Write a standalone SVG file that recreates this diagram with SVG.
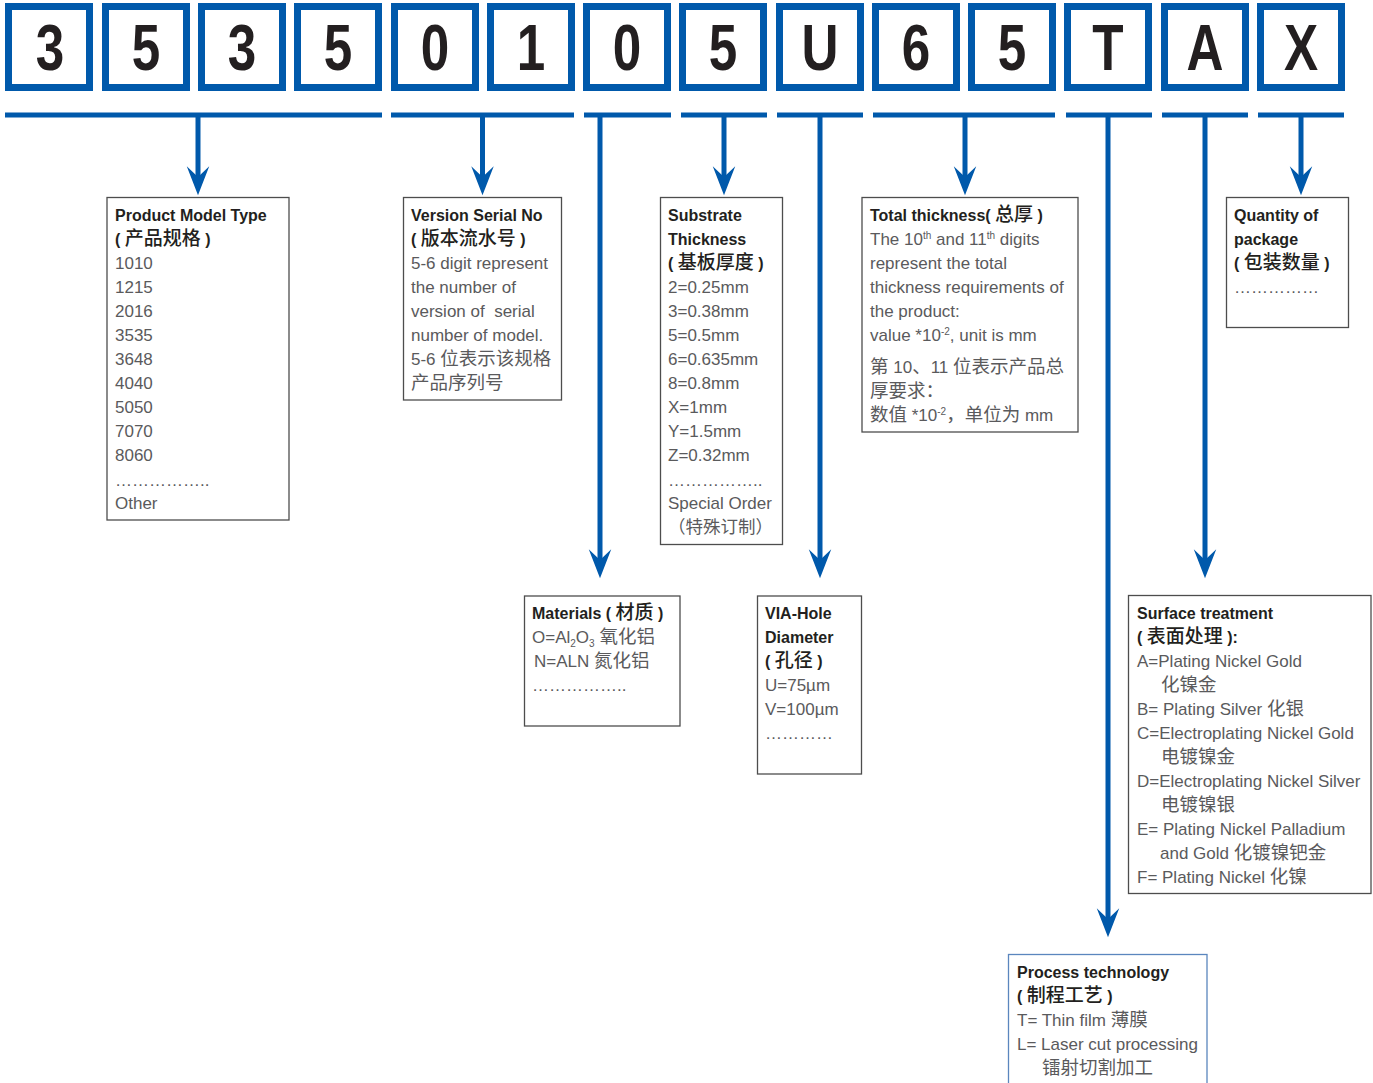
<svg xmlns="http://www.w3.org/2000/svg" width="1373" height="1083" viewBox="0 0 1373 1083">
<style>
.dbox{fill:#fff;stroke:#0059ab;stroke-width:7}
.dig{font-family:"Liberation Sans",sans-serif;font-weight:bold;font-size:64px;fill:#231f20;text-anchor:middle}
.bar{stroke:#0059ab;stroke-width:5;fill:none}
.stem{stroke:#0059ab;stroke-width:5;fill:none;marker-end:url(#ah)}
.nbox{fill:#fff;stroke:#4d4d4d;stroke-width:1.3}
.t{font-family:"Liberation Sans","Noto Sans CJK SC",sans-serif;font-size:17px;fill:#5a5a5c}
.h{font-family:"Liberation Sans","Noto Sans CJK SC",sans-serif;font-size:16px;font-weight:bold;fill:#231f20}
.c{font-family:"Noto Sans CJK SC",sans-serif;font-size:18.5px}
.hc{font-family:"Noto Sans CJK SC",sans-serif;font-size:19px;font-weight:500}
.sup{font-size:10px}
</style>
<defs>
<marker id="ah" markerUnits="userSpaceOnUse" markerWidth="30" markerHeight="24" viewBox="-27 -11 28 22" refX="-17" refY="0" orient="auto">
<path d="M0,0 L-27,-10.5 L-17,0 L-27,10.5 Z" fill="#0059ab"/>
</marker>
</defs>

<g id="code">
<rect class="dbox" x="8.5" y="6.5" width="81" height="81"/>
<rect class="dbox" x="105.5" y="6.5" width="81" height="81"/>
<rect class="dbox" x="201.5" y="6.5" width="81" height="81"/>
<rect class="dbox" x="297.5" y="6.5" width="81" height="81"/>
<rect class="dbox" x="394.5" y="6.5" width="81" height="81"/>
<rect class="dbox" x="490.5" y="6.5" width="81" height="81"/>
<rect class="dbox" x="586.5" y="6.5" width="81" height="81"/>
<rect class="dbox" x="682.5" y="6.5" width="81" height="81"/>
<rect class="dbox" x="779.5" y="6.5" width="81" height="81"/>
<rect class="dbox" x="875.5" y="6.5" width="81" height="81"/>
<rect class="dbox" x="971.5" y="6.5" width="81" height="81"/>
<rect class="dbox" x="1067.5" y="6.5" width="81" height="81"/>
<rect class="dbox" x="1164.5" y="6.5" width="81" height="81"/>
<rect class="dbox" x="1260.5" y="6.5" width="81" height="81"/>
<text class="dig" transform="translate(50,70) scale(0.8,1)">3</text>
<text class="dig" transform="translate(146,70) scale(0.8,1)">5</text>
<text class="dig" transform="translate(242,70) scale(0.8,1)">3</text>
<text class="dig" transform="translate(338,70) scale(0.8,1)">5</text>
<text class="dig" transform="translate(435,70) scale(0.8,1)">0</text>
<text class="dig" transform="translate(531,70) scale(0.8,1)">1</text>
<text class="dig" transform="translate(627,70) scale(0.8,1)">0</text>
<text class="dig" transform="translate(723,70) scale(0.8,1)">5</text>
<text class="dig" transform="translate(820,70) scale(0.8,1)">U</text>
<text class="dig" transform="translate(916,70) scale(0.8,1)">6</text>
<text class="dig" transform="translate(1012,70) scale(0.8,1)">5</text>
<text class="dig" transform="translate(1108,70) scale(0.8,1)">T</text>
<text class="dig" transform="translate(1205,70) scale(0.8,1)">A</text>
<text class="dig" transform="translate(1301,70) scale(0.8,1)">X</text>
</g>

<g id="connectors">
<line class="bar" x1="5" y1="115" x2="382" y2="115"/>
<line class="bar" x1="391" y1="115" x2="574" y2="115"/>
<line class="bar" x1="584" y1="115" x2="671" y2="115"/>
<line class="bar" x1="681" y1="115" x2="767" y2="115"/>
<line class="bar" x1="777" y1="115" x2="863" y2="115"/>
<line class="bar" x1="873" y1="115" x2="1055" y2="115"/>
<line class="bar" x1="1066" y1="115" x2="1152" y2="115"/>
<line class="bar" x1="1162" y1="115" x2="1248" y2="115"/>
<line class="bar" x1="1258" y1="115" x2="1344" y2="115"/>
<line class="stem" x1="198" y1="115" x2="198" y2="177"/>
<line class="stem" x1="482.5" y1="115" x2="482.5" y2="177"/>
<line class="stem" x1="600" y1="115" x2="600" y2="560"/>
<line class="stem" x1="724" y1="115" x2="724" y2="177"/>
<line class="stem" x1="820" y1="115" x2="820" y2="560"/>
<line class="stem" x1="965" y1="115" x2="965" y2="177"/>
<line class="stem" x1="1108" y1="115" x2="1108" y2="919"/>
<line class="stem" x1="1205" y1="115" x2="1205" y2="560"/>
<line class="stem" x1="1301" y1="115" x2="1301" y2="177"/>
</g>

<g id="product-model">
<rect class="nbox" x="107" y="197.5" width="182" height="322.5"/>
<text class="h" x="115" y="221">Product Model Type</text>
<text class="h" x="115" y="245">( <tspan class="hc">产品规格</tspan> )</text>
<text class="t" x="115" y="269">1010</text>
<text class="t" x="115" y="293">1215</text>
<text class="t" x="115" y="317">2016</text>
<text class="t" x="115" y="341">3535</text>
<text class="t" x="115" y="365">3648</text>
<text class="t" x="115" y="389">4040</text>
<text class="t" x="115" y="413">5050</text>
<text class="t" x="115" y="437">7070</text>
<text class="t" x="115" y="461">8060</text>
<text class="t" x="115" y="486">……………..</text>
<text class="t" x="115" y="509">Other</text>
</g>

<g id="version-serial">
<rect class="nbox" x="403.5" y="197.5" width="158" height="202.5"/>
<text class="h" x="411" y="221">Version Serial No</text>
<text class="h" x="411" y="245">( <tspan class="hc">版本流水号</tspan> )</text>
<text class="t" x="411" y="269">5-6 digit represent</text>
<text class="t" x="411" y="293">the number of</text>
<text class="t" x="411" y="317">version of&#160; serial</text>
<text class="t" x="411" y="341">number of model.</text>
<text class="t" x="411" y="365">5-6 <tspan class="c">位表示该规格</tspan></text>
<text class="t" x="411" y="389"><tspan class="c">产品序列号</tspan></text>
</g>

<g id="substrate-thickness">
<rect class="nbox" x="660.5" y="197.5" width="122" height="347"/>
<text class="h" x="668" y="221">Substrate</text>
<text class="h" x="668" y="245">Thickness</text>
<text class="h" x="668" y="269">( <tspan class="hc">基板厚度</tspan> )</text>
<text class="t" x="668" y="293">2=0.25mm</text>
<text class="t" x="668" y="317">3=0.38mm</text>
<text class="t" x="668" y="341">5=0.5mm</text>
<text class="t" x="668" y="365">6=0.635mm</text>
<text class="t" x="668" y="389">8=0.8mm</text>
<text class="t" x="668" y="413">X=1mm</text>
<text class="t" x="668" y="437">Y=1.5mm</text>
<text class="t" x="668" y="461">Z=0.32mm</text>
<text class="t" x="668" y="486">……………..</text>
<text class="t" x="668" y="509">Special Order</text>
<text class="t" x="668" y="533"><tspan class="c" style="font-size:17.5px">（特殊订制）</tspan></text>
</g>

<g id="total-thickness">
<rect class="nbox" x="862" y="197.5" width="216" height="234.5"/>
<text class="h" x="870" y="221">Total thickness( <tspan class="hc">总厚</tspan> )</text>
<text class="t" x="870" y="245">The 10<tspan class="sup" dy="-6">th</tspan><tspan dy="6"> and 11</tspan><tspan class="sup" dy="-6">th</tspan><tspan dy="6"> digits</tspan></text>
<text class="t" x="870" y="269">represent the total</text>
<text class="t" x="870" y="293">thickness requirements of</text>
<text class="t" x="870" y="317">the product:</text>
<text class="t" x="870" y="341">value *10<tspan class="sup" dy="-6">-2</tspan><tspan dy="6">, unit is mm</tspan></text>
<text class="t" x="870" y="373"><tspan class="c">第</tspan> 10<tspan class="c">、</tspan>11 <tspan class="c">位表示产品总</tspan></text>
<text class="t" x="870" y="397"><tspan class="c">厚要求：</tspan></text>
<text class="t" x="870" y="421"><tspan class="c">数值</tspan> *10<tspan class="sup" dy="-6">-2</tspan><tspan class="c" dy="6">，单位为</tspan> mm</text>
</g>

<g id="quantity">
<rect class="nbox" x="1226.5" y="197.5" width="122" height="130"/>
<text class="h" x="1234" y="221">Quantity of</text>
<text class="h" x="1234" y="245">package</text>
<text class="h" x="1234" y="269">( <tspan class="hc">包装数量</tspan> )</text>
<text class="t" x="1234" y="293">……………</text>
</g>

<g id="materials">
<rect class="nbox" x="524.5" y="596" width="155.5" height="130"/>
<text class="h" x="532" y="619">Materials ( <tspan class="hc">材质</tspan> )</text>
<text class="t" x="532" y="643">O=Al<tspan class="sup" dy="4">2</tspan><tspan dy="-4">O</tspan><tspan class="sup" dy="4">3</tspan><tspan dy="-4"> </tspan><tspan class="c">氧化铝</tspan></text>
<text class="t" x="534" y="667">N=ALN <tspan class="c">氮化铝</tspan></text>
<text class="t" x="532" y="691">……………..</text>
</g>

<g id="via-hole">
<rect class="nbox" x="757.5" y="596" width="104" height="178"/>
<text class="h" x="765" y="619">VIA-Hole</text>
<text class="h" x="765" y="643">Diameter</text>
<text class="h" x="765" y="667">( <tspan class="hc">孔径</tspan> )</text>
<text class="t" x="765" y="691">U=75µm</text>
<text class="t" x="765" y="715">V=100µm</text>
<text class="t" x="765" y="739">…………</text>
</g>

<g id="surface-treatment">
<rect class="nbox" x="1128.5" y="595.5" width="242.5" height="298"/>
<text class="h" x="1137" y="619">Surface treatment</text>
<text class="h" x="1137" y="643">( <tspan class="hc">表面处理</tspan> ):</text>
<text class="t" x="1137" y="667">A=Plating Nickel Gold</text>
<text class="t" x="1161" y="691"><tspan class="c">化镍金</tspan></text>
<text class="t" x="1137" y="715">B= Plating Silver <tspan class="c">化银</tspan></text>
<text class="t" x="1137" y="739">C=Electroplating Nickel Gold</text>
<text class="t" x="1161" y="763"><tspan class="c">电镀镍金</tspan></text>
<text class="t" x="1137" y="787">D=Electroplating Nickel Silver</text>
<text class="t" x="1161" y="811"><tspan class="c">电镀镍银</tspan></text>
<text class="t" x="1137" y="835">E= Plating Nickel Palladium</text>
<text class="t" x="1160" y="859">and Gold <tspan class="c">化镀镍钯金</tspan></text>
<text class="t" x="1137" y="883">F= Plating Nickel <tspan class="c">化镍</tspan></text>
</g>

<g id="process-technology">
<rect class="nbox" x="1008.5" y="954.5" width="198.5" height="140" style="stroke:#5a86be"/>
<text class="h" x="1017" y="978">Process technology</text>
<text class="h" x="1017" y="1002">( <tspan class="hc">制程工艺</tspan> )</text>
<text class="t" x="1017" y="1026">T= Thin film <tspan class="c">薄膜</tspan></text>
<text class="t" x="1017" y="1050">L= Laser cut processing</text>
<text class="t" x="1042" y="1074"><tspan class="c">镭射切割加工</tspan></text>
</g>
</svg>
